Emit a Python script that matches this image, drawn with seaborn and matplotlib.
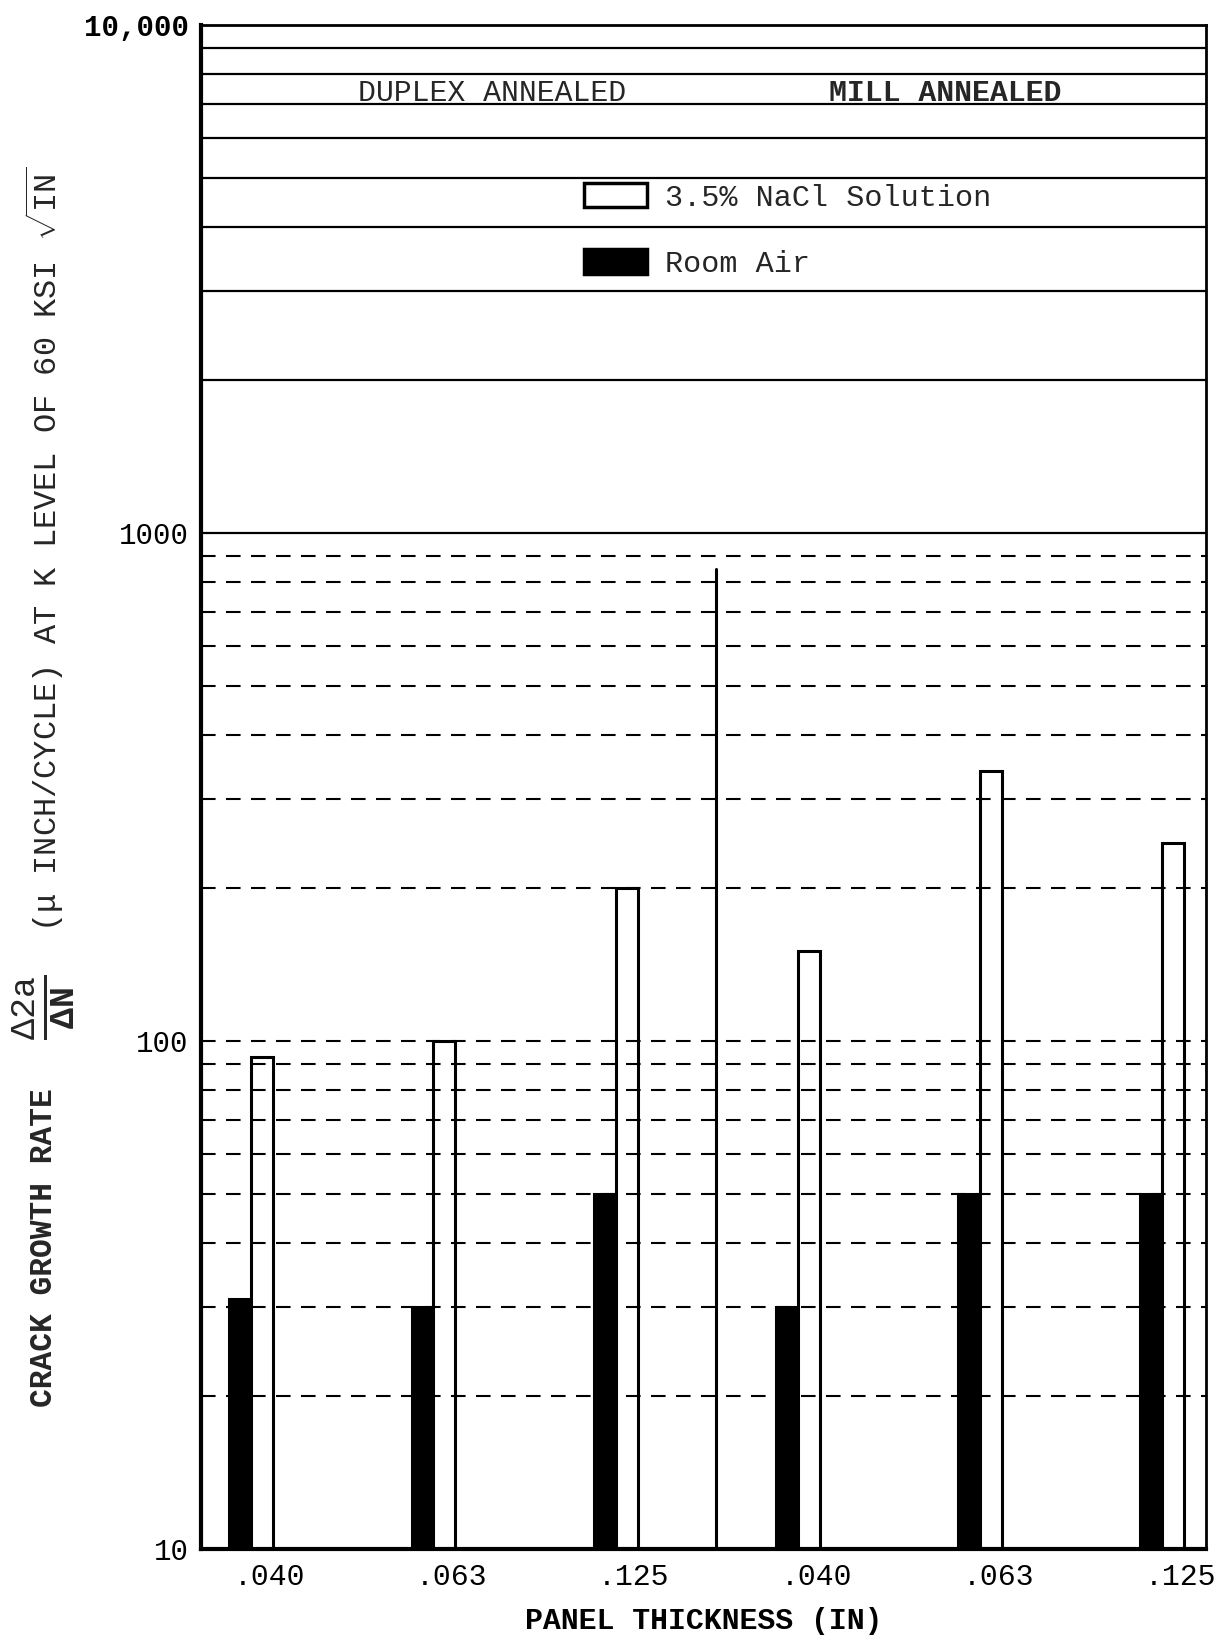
import numpy as np
import pandas as pd
import matplotlib
matplotlib.use("Agg")
import matplotlib.pyplot as plt
from matplotlib.patches import Patch
from matplotlib.ticker import NullLocator
import seaborn as sns

# ---------------- data ----------------
conditions = ["Duplex Annealed"] * 3 + ["Mill Annealed"] * 3
thickness_labels = [".040", ".063", ".125", ".040", ".063", ".125"]
room_air = [31, 30, 50, 30, 50, 50]
nacl = [93, 100, 200, 150, 340, 245]
series_names = ["Room Air", "3.5% NaCl Solution"]
group_titles = ["DUPLEX ANNEALED", "MILL ANNEALED"]
y_tick_values = [10, 100, 1000, 10000]
y_tick_labels = ["10", "100", "1000", "10,000"]
divider_top = 850

# ---------------- style ----------------
sns.set_theme(style="white")
plt.rcParams["font.family"] = ["Liberation Mono", "DejaVu Sans"]
plt.rcParams["mathtext.fontset"] = "custom"
plt.rcParams["mathtext.rm"] = "Liberation Mono"
plt.rcParams["mathtext.it"] = "Liberation Mono:italic"
plt.rcParams["mathtext.bf"] = "Liberation Mono:bold"

keys = [f"{c} {t}" for c, t in zip(conditions, thickness_labels)]
df = pd.DataFrame({
    "panel": keys * 2,
    "series": [series_names[0]] * len(keys) + [series_names[1]] * len(keys),
    "rate": room_air + nacl,
})
palette = {series_names[0]: "black", series_names[1]: "white"}

fig = plt.figure(figsize=(12.28, 16.41), dpi=100)
ax = fig.add_axes([0.1637, 0.0561, 0.8183, 0.9287])
ax.set_yscale("log")

sns.barplot(data=df, x="panel", y="rate", hue="series", order=keys,
            hue_order=series_names, palette=palette, width=0.24, gap=0,
            edgecolor="black", linewidth=2.2, saturation=1, ax=ax,
            zorder=2, legend=False)

ax.set_ylim(10, 10000)
ax.set_xlim(-0.276, 5.24)

# grid lines (graph-paper style): solid in top decade, broken below
levels = [m * 10 ** e for e in range(1, 4) for m in range(1, 10)] + [10000]
for lv in levels[1:-1]:
    if lv >= 1000:
        ax.axhline(lv, color="black", lw=1.6, zorder=3)
    else:
        ax.axhline(lv, color="black", lw=1.5, ls=(0, (7, 5)), zorder=3)

# divider between the two heat treatments
ax.plot([2.55, 2.55], [10, divider_top], color="black", lw=2.2, zorder=4)

# group titles
ax.text(1.32, 7000 * 1.012, group_titles[0], ha="center", va="baseline",
        fontsize=21.5, zorder=5)
ax.text(3.81, 7000 * 1.012, group_titles[1], ha="center", va="baseline",
        fontsize=21.5, fontweight="bold", zorder=5)

# legend
handles = [Patch(facecolor="white", edgecolor="black", linewidth=2.5),
           Patch(facecolor="black", edgecolor="black", linewidth=2.5)]
ax.legend(handles, [series_names[1], series_names[0]], loc="upper left",
          bbox_to_anchor=(0.381, 0.8963), frameon=False, fontsize=21.7,
          handlelength=2.1, handleheight=0.87, handletextpad=0.6,
          labelspacing=1.25, borderpad=0, borderaxespad=0)

# ticks
ax.set_yticks(y_tick_values, y_tick_labels)
ax.yaxis.set_minor_locator(NullLocator())
ax.tick_params(axis="y", which="both", length=0, labelsize=21, pad=9,
               colors="black")
ax.get_yticklabels()[-1].set_fontweight("bold")
ax.set_xticks(np.arange(len(keys)) + 0.1, thickness_labels)
ax.tick_params(axis="x", length=0, labelsize=21.5, pad=10, colors="black")

ax.set_xlabel("PANEL THICKNESS (IN)", fontsize=21.5, fontweight="bold",
              labelpad=12, color="black")
ax.set_ylabel("")

for side, lw in [("left", 3), ("bottom", 3), ("right", 2), ("top", 2)]:
    ax.spines[side].set_visible(True)
    ax.spines[side].set_color("black")
    ax.spines[side].set_linewidth(lw)

# y-axis label pieces
fig.text(0.036, 0.2395, "CRACK GROWTH RATE", rotation=90, ha="center",
         va="center", fontsize=22.5, fontweight="bold")
fig.text(0.036, 0.3863, r"$\frac{\mathrm{\Delta 2a}}{\mathbf{\Delta N}}$",
         rotation=90, ha="center", va="center", fontsize=36)
fig.text(0.036, 0.665,
         "(μ INCH/CYCLE) AT K LEVEL OF 60 KSI $\\sqrt{\\mathrm{IN}}$",
         rotation=90, ha="center", va="center", fontsize=23)

fig.savefig("out.png", dpi=100)
